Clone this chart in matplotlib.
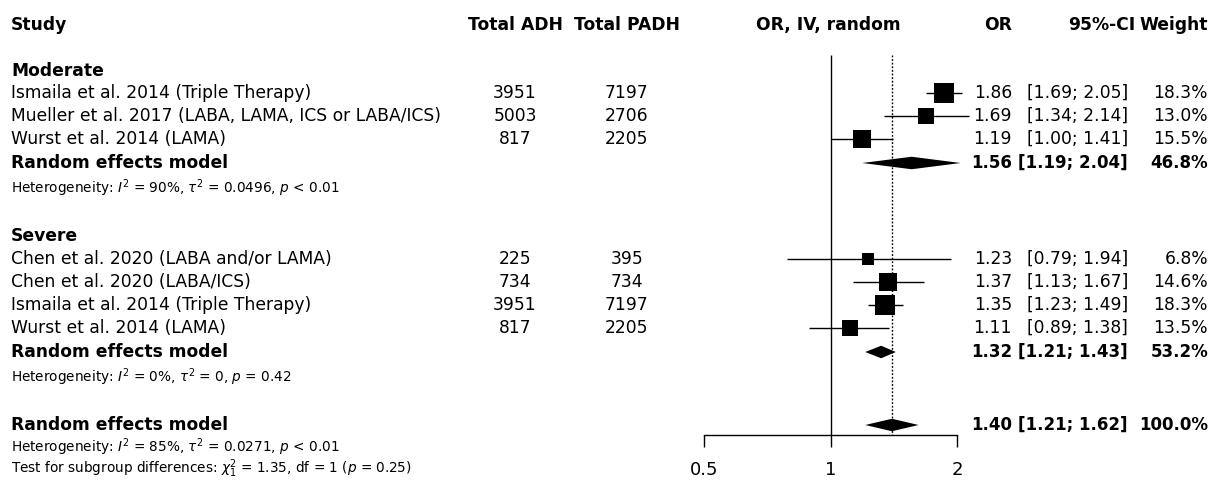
import numpy as np
import matplotlib
matplotlib.use("Agg")
import matplotlib.pyplot as plt

plt.rcParams['font.family'] = ['DejaVu Sans']
plt.rcParams['mathtext.fontset'] = 'dejavusans'

# ---------------- data ----------------
mod_studies = ["Ismaila et al. 2014 (Triple Therapy)",
               "Mueller et al. 2017 (LABA, LAMA, ICS or LABA/ICS)",
               "Wurst et al. 2014 (LAMA)"]
mod_adh = [3951, 5003, 817]
mod_padh = [7197, 2706, 2205]
mod_or = [1.86, 1.69, 1.19]
mod_lo = [1.69, 1.34, 1.00]
mod_hi = [2.05, 2.14, 1.41]
mod_w = [18.3, 13.0, 15.5]
mod_pool = (1.56, 1.19, 2.04, 46.8)
mod_het = r"Heterogeneity: $I^2$ = 90%, $\tau^2$ = 0.0496, $p$ < 0.01"

sev_studies = ["Chen et al. 2020 (LABA and/or LAMA)",
               "Chen et al. 2020 (LABA/ICS)",
               "Ismaila et al. 2014 (Triple Therapy)",
               "Wurst et al. 2014 (LAMA)"]
sev_adh = [225, 734, 3951, 817]
sev_padh = [395, 734, 7197, 2205]
sev_or = [1.23, 1.37, 1.35, 1.11]
sev_lo = [0.79, 1.13, 1.23, 0.89]
sev_hi = [1.94, 1.67, 1.49, 1.38]
sev_w = [6.8, 14.6, 18.3, 13.5]
sev_pool = (1.32, 1.21, 1.43, 53.2)
sev_het = r"Heterogeneity: $I^2$ = 0%, $\tau^2$ = 0, $p$ = 0.42"

all_pool = (1.40, 1.21, 1.62, 100.0)
all_het = r"Heterogeneity: $I^2$ = 85%, $\tau^2$ = 0.0271, $p$ < 0.01"
test_txt = r"Test for subgroup differences: $\chi^2_1$ = 1.35, df = 1 ($p$ = 0.25)"

xticks = [0.5, 1, 2]
xtick_labels = ["0.5", "1", "2"]

# ---------------- layout ----------------
W, H = 1212, 483
fig = plt.figure(figsize=(W / 100, H / 100), dpi=100)
fig.patch.set_facecolor('white')

axt = fig.add_axes([0, 0, 1, 1])
axt.set_xlim(0, W)
axt.set_ylim(H, 0)
axt.axis('off')

ax_l, ax_r = 704, 957
ax = fig.add_axes([ax_l / W, 0, (ax_r - ax_l) / W, 1])
ax.set_xscale('log')
ax.set_xlim(0.5, 2)
ax.set_ylim(H, 0)
ax.patch.set_alpha(0)
for s in ['top', 'left', 'right']:
    ax.spines[s].set_visible(False)
axis_y = 435
ax.spines['bottom'].set_position(('data', axis_y))
ax.spines['bottom'].set_linewidth(1.0)
ax.set_yticks([])
ax.set_xticks(xticks)
ax.set_xticklabels(xtick_labels, fontsize=13)
ax.minorticks_off()
ax.tick_params(axis='x', which='both', direction='out', length=8.5, width=1.0, pad=10)
ax.xaxis.set_minor_locator(matplotlib.ticker.NullLocator())

FS = 12.3
FS_B = 12.0   # bold numbers in right columns
FS_S = 9.8
X_STUDY = 11
X_ADH = 515
X_PADH = 627
X_FOREST = 828
X_OR = 1012
X_CI = 1128
X_W = 1208
X_ORH = 1012
X_CIH = 1135

# header
y_head = 25
axt.text(X_STUDY, y_head, "Study", fontsize=FS, fontweight='bold', va='center', ha='left')
axt.text(X_ADH, y_head, "Total ADH", fontsize=FS, fontweight='bold', va='center', ha='center')
axt.text(X_PADH, y_head, "Total PADH", fontsize=FS, fontweight='bold', va='center', ha='center')
axt.text(X_FOREST, y_head, "OR, IV, random", fontsize=FS, fontweight='bold', va='center', ha='center')
axt.text(X_ORH, y_head, "OR", fontsize=FS, fontweight='bold', va='center', ha='right')
axt.text(X_CIH, y_head, "95%-CI", fontsize=FS, fontweight='bold', va='center', ha='right')
axt.text(X_W, y_head, "Weight", fontsize=FS, fontweight='bold', va='center', ha='right')


def row_text(y, name, adh, padh, orv, lo, hi, w, bold=False):
    fw = 'bold' if bold else 'normal'
    fsn = FS_B if bold else FS
    axt.text(X_STUDY, y, name, fontsize=FS, fontweight=fw, va='center', ha='left')
    if adh is not None:
        axt.text(X_ADH, y, str(adh), fontsize=FS, va='center', ha='center')
        axt.text(X_PADH, y, str(padh), fontsize=FS, va='center', ha='center')
    axt.text(X_OR, y, f"{orv:.2f}", fontsize=fsn, fontweight=fw, va='center', ha='right')
    axt.text(X_CI, y, f"[{lo:.2f}; {hi:.2f}]", fontsize=fsn, fontweight=fw, va='center', ha='right')
    axt.text(X_W, y, f"{w:.1f}%", fontsize=fsn, fontweight=fw, va='center', ha='right')


def draw_study(y, orv, lo, hi, w):
    ax.hlines(y, lo, hi, color='black', lw=1.0, clip_on=False)
    side_px = 4.5 * np.sqrt(w)
    ax.scatter([orv], [y], marker='s', s=(side_px * 0.72) ** 2, color='black',
               linewidths=0, clip_on=False, zorder=3)


def draw_diamond(y, est, lo, hi, h=12.5):
    ax.fill([lo, est, hi, est], [y, y - h / 2, y, y + h / 2], color='black',
            lw=0, clip_on=False, zorder=3)


def group(y_title, title, ys, studies, adh, padh, orv, lo, hi, w, pool, y_pool, het, y_het):
    axt.text(X_STUDY, y_title, title, fontsize=FS, fontweight='bold', va='center', ha='left')
    for i in range(len(studies)):
        row_text(ys[i], studies[i], adh[i], padh[i], orv[i], lo[i], hi[i], w[i])
        draw_study(ys[i], orv[i], lo[i], hi[i], w[i])
    row_text(y_pool, "Random effects model", None, None, pool[0], pool[1], pool[2], pool[3], bold=True)
    draw_diamond(y_pool, pool[0], pool[1], pool[2])
    axt.text(X_STUDY, y_het, het, fontsize=FS_S, va='center', ha='left')


group(71, "Moderate", [93, 116, 139], mod_studies, mod_adh, mod_padh, mod_or, mod_lo, mod_hi,
      mod_w, mod_pool, 163, mod_het, 188)
group(236, "Severe", [259, 282, 305, 328], sev_studies, sev_adh, sev_padh, sev_or, sev_lo, sev_hi,
      sev_w, sev_pool, 352, sev_het, 377)

row_text(425, "Random effects model", None, None, all_pool[0], all_pool[1], all_pool[2], all_pool[3], bold=True)
draw_diamond(425, all_pool[0], all_pool[1], all_pool[2])
axt.text(X_STUDY, 447, all_het, fontsize=FS_S, va='center', ha='left')
axt.text(X_STUDY, 469, test_txt, fontsize=FS_S, va='center', ha='left')

# reference lines
ax.vlines(1, 55, axis_y, color='black', lw=1.0, zorder=1)
ax.vlines(all_pool[0], 55, axis_y, color='black', lw=1.0, linestyles=(0, (1.3, 1.3)), zorder=1)

fig.savefig("out.png", dpi=100, facecolor='white')
